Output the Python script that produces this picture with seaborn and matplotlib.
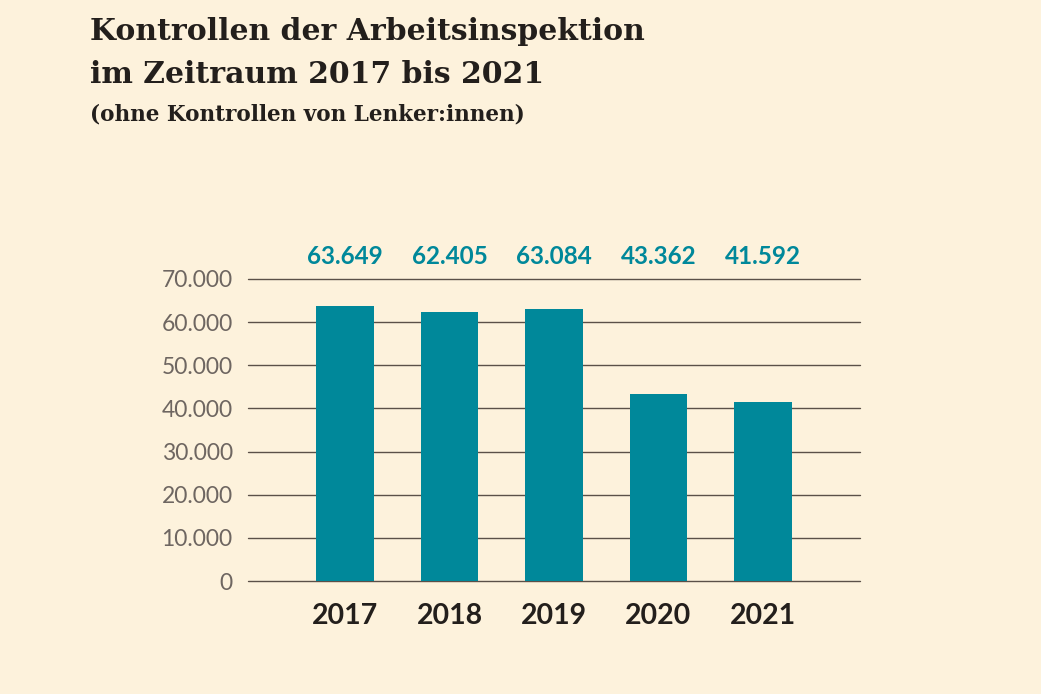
import matplotlib; matplotlib.use("Agg")
import matplotlib.pyplot as plt
import numpy as np
import pandas as pd
import seaborn as sns

years = ["2017", "2018", "2019", "2020", "2021"]
kontrollen = [63649, 62405, 63084, 43362, 41592]
y_ticks = [0, 10000, 20000, 30000, 40000, 50000, 60000, 70000]

BG = "#fdf2dc"
TEAL = "#00889a"
GRID = "#5b5048"
TICK = "#6e6661"
DARK = "#231f1c"

def fmt(v):
    return f"{v:,}".replace(",", ".")

sns.set_theme(style="white")
plt.rcParams["font.family"] = ["Lato", "DejaVu Sans"]

df = pd.DataFrame({"jahr": years, "n": kontrollen})

fig = plt.figure(figsize=(10.41, 6.94), dpi=100, facecolor=BG)
ax = fig.add_axes([0.2382, 0.1628, 0.5879, 0.4352])
ax.set_facecolor(BG)

for t in y_ticks:
    ax.axhline(t, color=GRID, lw=1.0, zorder=0, clip_on=False)

sns.barplot(data=df, x="jahr", y="n", color=TEAL, width=0.55,
            saturation=1, edgecolor="none", linewidth=0, ax=ax, zorder=2)

ax.set_ylim(0, 70000)
ax.set_xlim(-0.93, len(years) - 1 + 0.93)
ax.set_yticks(y_ticks)
ax.set_yticklabels([fmt(t) for t in y_ticks], color=TICK, fontsize=16.5)
ax.set_xticks(range(len(years)))
ax.set_xticklabels(years, fontsize=20.5, fontweight="bold", color=DARK)
ax.tick_params(axis="y", length=0, pad=11)
ax.tick_params(axis="x", length=0, pad=16)
ax.set_xlabel(""); ax.set_ylabel("")
for s in ax.spines.values():
    s.set_visible(False)

for i, v in enumerate(kontrollen):
    ax.annotate(fmt(v), xy=(i, 1), xycoords=("data", "axes fraction"),
                xytext=(0, 8), textcoords="offset points",
                ha="center", va="bottom", fontsize=17.5, fontweight="bold",
                color=TEAL)

fig.text(90/1041, 1 - 40/694, "Kontrollen der Arbeitsinspektion",
         fontsize=21.5, fontweight="bold", color=DARK, family="DejaVu Serif",
         va="baseline", ha="left")
fig.text(90/1041, 1 - 83/694, "im Zeitraum 2017 bis 2021",
         fontsize=21.5, fontweight="bold", color=DARK, family="DejaVu Serif",
         va="baseline", ha="left")
fig.text(90/1041, 1 - 121/694, "(ohne Kontrollen von Lenker:innen)",
         fontsize=15.5, fontweight="bold", color=DARK, family="DejaVu Serif",
         va="baseline", ha="left")

fig.savefig("out.png", dpi=100, facecolor=BG)
